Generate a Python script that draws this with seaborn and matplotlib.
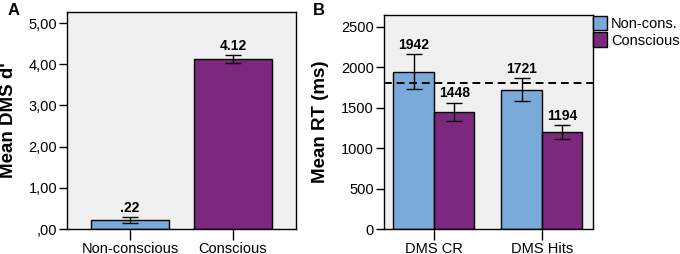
import matplotlib
matplotlib.use("Agg")
import matplotlib.pyplot as plt
import seaborn as sns
import pandas as pd
import numpy as np
from matplotlib.ticker import FuncFormatter
from matplotlib.patches import Patch

# Panel A data
a_categories = ["Non-conscious", "Conscious"]
a_values = [0.22, 4.12]
a_errors = [0.07, 0.10]
a_labels = [".22", "4.12"]

# Panel B data
b_conditions = ["DMS CR", "DMS Hits"]
b_groups = ["Non-cons.", "Conscious"]
b_nonconscious = [1942, 1721]
b_conscious = [1448, 1194]
b_nonconscious_err = [215, 140]
b_conscious_err = [110, 87]
b_reference_line = 1810

blue = "#7AAAD8"
purple = "#7B287E"
bg = "#F0F0F0"

sns.set_style("white")
plt.rcParams['font.family'] = ['Liberation Sans', 'DejaVu Sans']
plt.rcParams['text.color'] = 'black'
plt.rcParams['axes.labelcolor'] = 'black'
plt.rcParams['xtick.color'] = 'black'
plt.rcParams['ytick.color'] = 'black'

fig = plt.figure(figsize=(6.8, 2.54), dpi=100)
axA = fig.add_axes([0.0985, 0.0984, 0.3367, 0.8546])
axB = fig.add_axes([0.564, 0.0984, 0.3076, 0.8425])

# ---- Panel A ----
dfA = pd.DataFrame({"cat": a_categories, "val": a_values})
sns.barplot(data=dfA, x="cat", y="val", hue="cat", palette=[blue, purple],
            legend=False, errorbar=None, width=0.76, edgecolor="black",
            linewidth=1.0, saturation=1, ax=axA)
axA.errorbar(range(len(a_values)), a_values, yerr=a_errors, fmt="none",
             ecolor="black", elinewidth=1.0, capsize=6, capthick=1.0)
for i, (v, e, t) in enumerate(zip(a_values, a_errors, a_labels)):
    axA.text(i, v + e + 0.06, t, ha="center", va="bottom",
             fontsize=10, fontweight="bold", color="black")
axA.set_xlim(-0.61, 1.61)
axA.set_ylim(0, 5.27)
axA.set_yticks([0, 1, 2, 3, 4, 5])
axA.yaxis.set_major_formatter(FuncFormatter(
    lambda v, p: (",00" if v == 0 else f"{v:.2f}".replace(".", ","))))
axA.set_xlabel("")
axA.set_ylabel("Mean DMS d'", fontsize=13.5, fontweight="bold", color="black")
axA.yaxis.set_label_coords(-0.218, 0.5)

# ---- Panel B ----
dfB = pd.DataFrame({
    "cond": b_conditions * 2,
    "group": [b_groups[0]] * 2 + [b_groups[1]] * 2,
    "rt": b_nonconscious + b_conscious,
})
sns.barplot(data=dfB, x="cond", y="rt", hue="group", palette=[blue, purple],
            errorbar=None, width=0.75, edgecolor="black", linewidth=1.0,
            saturation=1, ax=axB)
offsets = [-0.1875, 0.1875]
for off, vals, errs in zip(offsets, [b_nonconscious, b_conscious],
                           [b_nonconscious_err, b_conscious_err]):
    xs = np.arange(len(vals)) + off
    axB.errorbar(xs, vals, yerr=errs, fmt="none", ecolor="black",
                 elinewidth=1.0, capsize=6, capthick=1.0)
    for x, v, e in zip(xs, vals, errs):
        axB.text(x, v + e + 35, f"{v}", ha="center", va="bottom",
                 fontsize=10, fontweight="bold", color="black")
axB.axhline(b_reference_line, color="black", linestyle=(0, (4, 2.5)),
            linewidth=1.4, zorder=5)
axB.set_xlim(-0.466, 1.47)
axB.set_ylim(0, 2645)
axB.set_yticks([0, 500, 1000, 1500, 2000, 2500])
axB.set_xlabel("")
axB.set_ylabel("Mean RT (ms)", fontsize=13.5, fontweight="bold", color="black")
axB.yaxis.set_label_coords(-0.262, 0.5)
handles = [Patch(facecolor=blue, edgecolor="black", label=b_groups[0]),
           Patch(facecolor=purple, edgecolor="black", label=b_groups[1])]
leg = axB.legend(handles=handles, loc="upper left", bbox_to_anchor=(1.0, 1.0),
                 frameon=False, fontsize=10.5, handlelength=0.95,
                 handleheight=1.15, handletextpad=0.25, borderaxespad=0.0,
                 borderpad=0.05, labelspacing=0.1)
for t in leg.get_texts():
    t.set_color("black")

fig.text(8 / 680, 1 - 3 / 254, "A", fontsize=12, fontweight="bold",
         ha="left", va="top", color="black")
fig.text(313 / 680, 1 - 3 / 254, "B", fontsize=12, fontweight="bold",
         ha="left", va="top", color="black")

for ax in (axA, axB):
    ax.set_facecolor(bg)
    for s in ax.spines.values():
        s.set_color("black")
        s.set_linewidth(1.0)
    ax.tick_params(axis="y", direction="out", length=6, width=1.0,
                   color="black", labelcolor="black", labelsize=10.5,
                   left=True, pad=1)
    ax.tick_params(axis="x", direction="out", length=8, width=1.0,
                   color="black", labelcolor="black", labelsize=10.5,
                   bottom=True, pad=1)

fig.savefig("out.png", dpi=100)
